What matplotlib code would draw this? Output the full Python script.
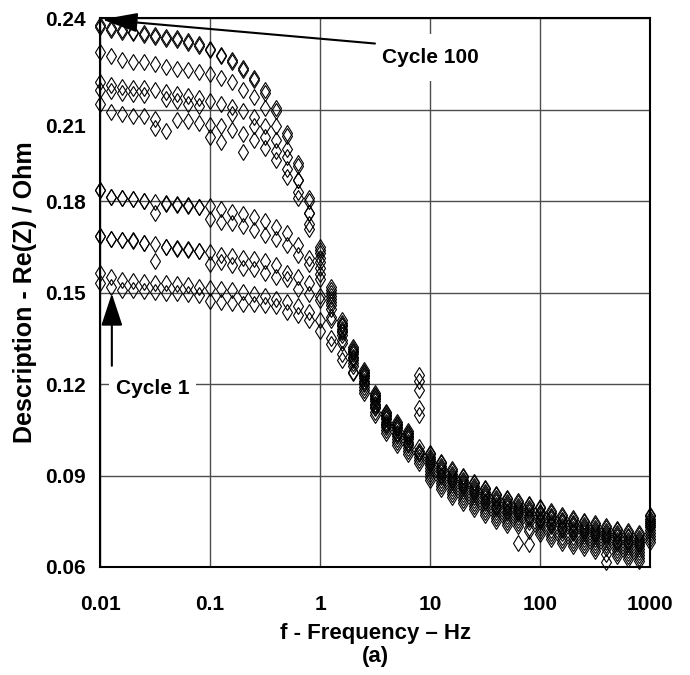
import matplotlib
matplotlib.use("Agg")
import matplotlib.pyplot as plt
import matplotlib.ticker as mticker

plt.rcParams["font.family"] = ["Liberation Sans", "DejaVu Sans"]
plt.rcParams["font.weight"] = "bold"

# measurement frequencies, 10 points per decade
frequency_hz = [
    0.01, 0.0126, 0.0158, 0.02, 0.0251, 0.0316, 0.0398, 0.0501, 0.0631, 0.0794,
    0.1, 0.126, 0.158, 0.2, 0.251, 0.316, 0.398, 0.501, 0.631, 0.794,
    1.0, 1.26, 1.58, 2.0, 2.51, 3.16, 3.98, 5.01, 6.31, 7.94,
    10, 12.6, 15.8, 20, 25.1, 31.6, 39.8, 50.1, 63.1, 79.4,
    100, 126, 158, 200, 251, 316, 398, 501, 631, 794, 1000,
]

# Re(Z) in Ohm, one list per cycle
re_z_cycle_100 = [
    .2377, .2367, .2362, .2356, .2350, .2345, .2340, .2335, .2325, .2315,
    .2300, .2280, .2262, .2238, .2205, .2165, .2105, .2025, .1925, .1810,
    .1650, .152, .141, .132, .1245, .117, .111, .1075, .1045, .123,
    .0975, .0945, .0920, .0900, .0880, .0860, .0840, .0827, .0815, .0807,
    .0797, .0783, .0770, .0760, .0752, .0743, .0733, .0725, .0717, .0710, .0772,
]
re_z_cycle_90 = [
    .2372, .2360, .2355, .2350, .2345, .2338, .2333, .2328, .2318, .2308,
    .2295, .2275, .2255, .2230, .2198, .2155, .2095, .2015, .1915, .1800,
    .1640, .151, .140, .1315, .124, .1165, .1105, .107, .104, .121,
    .0970, .0940, .0915, .0895, .0875, .0855, .0835, .0822, .0810, .0802,
    .0792, .0778, .0765, .0755, .0747, .0738, .0728, .0720, .0712, .0705, .0767,
]
re_z_cycle_80 = [
    .2290, .2275, .2263, .2258, .2256, .2250, .2240, .2235, .2230, .2224,
    .2218, .2205, .2190, .2165, .2140, .2104, .2048, .1970, .1870, .1760,
    .1630, .150, .1395, .131, .1235, .116, .110, .1065, .1035, .118,
    .0960, .0930, .0905, .0885, .0865, .0845, .0825, .0812, .0800, .0792,
    .0782, .0768, .0755, .0745, .0737, .0728, .0718, .0710, .0702, .0695, .0757,
]
re_z_cycle_70 = [
    .2190, .2180, .2175, .2172, .2170, .2165, .2158, .2152, .2145, .2138,
    .2130, .2120, .2110, .2095, .2075, .2045, .2000, .1945, .1870, .1760,
    .1615, .149, .139, .1305, .123, .1155, .1095, .106, .103, .112,
    .0955, .0925, .0900, .0880, .0860, .0840, .0820, .0807, .0795, .0787,
    .0777, .0763, .0750, .0740, .0732, .0723, .0713, .0705, .0697, .0690, .0752,
]
re_z_cycle_60 = [
    .2165, .2160, .2154, .2150, .2148, .2040, .2135, .2128, .2120, .2112,
    .2010, .1995, .2085, .1960, .2045, .2010, .1965, .1905, .1830, .1725,
    .1600, .148, .138, .130, .1225, .115, .109, .1055, .1025, .110,
    .0948, .0918, .0893, .0873, .0853, .0833, .0813, .0800, .0788, .0780,
    .0770, .0756, .0743, .0733, .0725, .0716, .0706, .0698, .0690, .0683, .0745,
]
re_z_cycle_50 = [
    .2120, .2093, .2085, .2078, .2078, .2070, .2030, .2067, .2062, .2056,
    .2050, .2045, .2035, .2020, .2000, .1975, .1935, .1880, .1810, .1710,
    .1580, .147, .1375, .129, .122, .1145, .1085, .105, .102, .0995,
    .0940, .0910, .0885, .0865, .0845, .0825, .0805, .0792, .0780, .0772,
    .0762, .0748, .0735, .0725, .0717, .0708, .0698, .0690, .0682, .0675, .0737,
]
re_z_cycle_40 = [
    .1838, .1815, .1810, .1806, .1800, .1796, .1793, .1790, .1786, .1782,
    .1785, .1775, .1765, .1758, .1747, .1735, .1714, .1694, .1655, .1615,
    .1560, .146, .137, .1285, .121, .1135, .1075, .104, .101, .098,
    .0933, .0903, .0878, .0858, .0838, .0818, .0798, .0785, .0773, .0765,
    .0755, .0741, .0728, .0718, .0710, .0701, .0691, .0683, .0675, .0668, .0730,
]
re_z_cycle_30 = [
    .1838, .1815, .1810, .1806, .1800, .1760, .1790, .1788, .1784, .1780,
    .1740, .1730, .1728, .1720, .1705, .1690, .1675, .1655, .1625, .1595,
    .1545, .1445, .136, .128, .1205, .113, .107, .1035, .1005, .0975,
    .0925, .0895, .0870, .0850, .0830, .0810, .0790, .0777, .0765, .0757,
    .0747, .0733, .0720, .0710, .0702, .0693, .0683, .0675, .0667, .0660, .0722,
]
re_z_cycle_20 = [
    .1687, .1677, .1674, .1671, .1664, .1658, .1650, .1645, .1642, .1638,
    .1632, .1622, .1620, .1615, .1610, .1604, .1590, .1565, .1550, .1530,
    .1490, .142, .1345, .127, .120, .1125, .1065, .103, .100, .097,
    .0915, .0885, .0860, .0840, .0820, .0800, .0780, .0767, .0755, .0747,
    .0737, .0723, .0710, .0700, .0692, .0683, .0673, .0665, .0657, .0650, .0712,
]
re_z_cycle_10 = [
    .1687, .1677, .1674, .1668, .1662, .1605, .1648, .1643, .1640, .1636,
    .1595, .1600, .1592, .1580, .1578, .1565, .1550, .1545, .1513, .1495,
    .1475, .141, .1335, .126, .119, .112, .106, .102, .099, .096,
    .0905, .0875, .0850, .0830, .0810, .0790, .0770, .0757, .0745, .0675,
    .0727, .0713, .0700, .0690, .0682, .0673, .0663, .0655, .0647, .0640, .0702,
]
re_z_cycle_5 = [
    .1563, .1550, .1540, .1537, .1535, .1533, .1530, .1528, .1525, .1520,
    .1514, .1512, .1508, .1503, .1497, .1490, .1480, .1468, .1455, .1437,
    .1410, .135, .130, .124, .118, .111, .105, .101, .098, .095,
    .0895, .0865, .0840, .0820, .0800, .0780, .0760, .0747, .0735, .0727,
    .0717, .0703, .0690, .0680, .0672, .0663, .0616, .0645, .0637, .0630, .0692,
]
re_z_cycle_1 = [
    .1530, .1517, .1510, .1507, .1505, .1503, .1500, .1498, .1495, .1492,
    .1474, .1470, .1466, .1464, .1462, .1460, .1455, .1435, .1426, .1410,
    .1375, .133, .128, .1235, .117, .110, .104, .100, .097, .094,
    .0885, .0855, .0830, .0810, .0790, .0770, .0750, .0737, .0678, .0717,
    .0707, .0693, .0680, .0670, .0662, .0653, .0643, .0635, .0627, .0620, .0682,
]

x_ticks = [0.01, 0.1, 1, 10, 100, 1000]
x_tick_labels = ["0.01", "0.1", "1", "10", "100", "1000"]
y_ticks = [0.06, 0.09, 0.12, 0.15, 0.18, 0.21, 0.24]
y_tick_labels = ["0.06", "0.09", "0.12", "0.15", "0.18", "", "0.24"]

all_cycles = [
    re_z_cycle_100, re_z_cycle_90, re_z_cycle_80, re_z_cycle_70,
    re_z_cycle_60, re_z_cycle_50, re_z_cycle_40, re_z_cycle_30,
    re_z_cycle_20, re_z_cycle_10, re_z_cycle_5, re_z_cycle_1,
]

fig, ax = plt.subplots(figsize=(6.9, 6.75), dpi=100)
fig.subplots_adjust(left=0.145, right=0.942, bottom=0.16, top=0.973)

for re_z in all_cycles:
    ax.plot(
        frequency_hz, re_z, linestyle="none", marker="d", markersize=8,
        markerfacecolor="none", markeredgecolor="black", markeredgewidth=0.8,
        clip_on=False, zorder=3,
    )

ax.set_xscale("log")
ax.set_xlim(0.01, 1000)
ax.set_ylim(0.06, 0.24)
ax.set_xticks(x_ticks, x_tick_labels)
ax.xaxis.set_minor_locator(mticker.NullLocator())
ax.set_yticks(y_ticks, y_tick_labels)
ax.set_axisbelow(True)
ax.grid(True, color="0.3", linewidth=1)
ax.tick_params(length=0, labelsize=15)
ax.tick_params(axis="y", pad=10)
ax.tick_params(axis="x", pad=20)
for spine in ax.spines.values():
    spine.set_linewidth(1.5)

# the 0.21 label sits a bit below its grid line in the original
ax.annotate("0.21", xy=(0, 0.21), xycoords=("axes fraction", "data"),
            xytext=(-10, -13), textcoords="offset points",
            ha="right", va="center", fontsize=15, fontweight="bold")

ax.set_xlabel("f - Frequency – Hz\n(a)", fontsize=16, fontweight="bold",
              labelpad=7, linespacing=1.1)
ax.set_ylabel("Description - Re(Z) / Ohm", fontsize=18, fontweight="bold", labelpad=6)

ax.text(10, 0.2272, "Cycle 100", ha="center", va="center", fontsize=15,
        fontweight="bold", zorder=4,
        bbox=dict(facecolor="white", edgecolor="none", pad=10))
ax.annotate("", xy=(0.0104, 0.2396), xytext=(3.16, 0.2317),
            arrowprops=dict(arrowstyle="-|>,head_length=1.1,head_width=0.3",
                            mutation_scale=20, color="black", lw=1.5,
                            shrinkA=0, shrinkB=0), zorder=5)

ax.text(0.03, 0.1185, "Cycle 1", ha="center", va="center", fontsize=15,
        fontweight="bold", zorder=4,
        bbox=dict(facecolor="white", edgecolor="none", pad=5))
ax.annotate("", xy=(0.0128, 0.1497), xytext=(0.0128, 0.1260),
            arrowprops=dict(arrowstyle="-|>,head_length=1.0,head_width=0.33",
                            mutation_scale=20, color="black", lw=1.5,
                            shrinkA=0, shrinkB=0), zorder=5)

fig.savefig("out.png", dpi=100)
